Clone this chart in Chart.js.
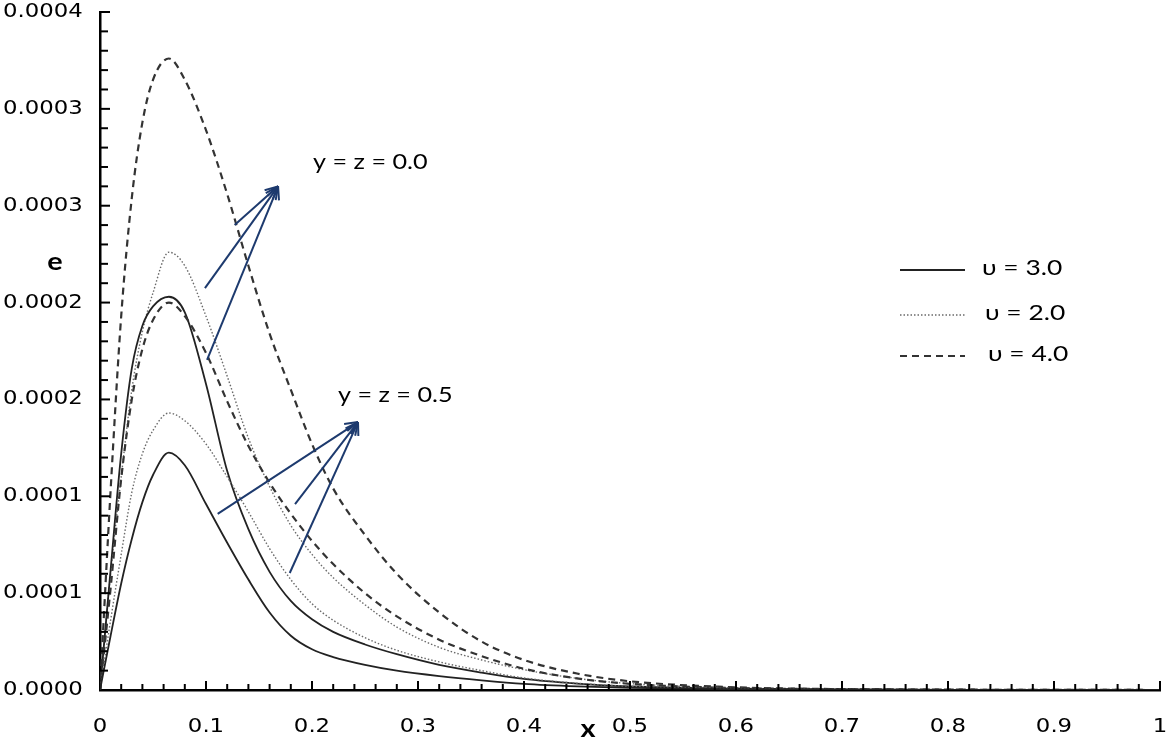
<!DOCTYPE html>
<html>
<head>
<meta charset="utf-8">
<script src="https://cdn.jsdelivr.net/npm/chart.js@4.4.1/dist/chart.umd.min.js"></script>
<style>
  html, body { margin:0; padding:0; background:#fff; }
  #wrap { width:1170px; height:740px; }
</style>
</head>
<body>
<div id="wrap"><canvas id="eChart" width="1170" height="740"></canvas></div>
<script>
const xValues = [0, 0.01, 0.02, 0.03, 0.04, 0.05, 0.065, 0.08, 0.10, 0.12, 0.14, 0.16, 0.18, 0.20, 0.22, 0.25, 0.28, 0.32, 0.36, 0.40, 0.45, 0.50, 0.60, 0.70, 0.80, 0.90, 1.00];

// y = z = 0.0
const e_v3_yz0 = [0, 0.62e-4, 1.22e-4, 1.66e-4, 1.88e-4, 1.98e-4, 2.03e-4, 1.95e-4, 1.58e-4, 1.13e-4, 0.83e-4, 0.61e-4, 0.46e-4, 0.365e-4, 0.30e-4, 0.235e-4, 0.185e-4, 0.13e-4, 0.09e-4, 0.057e-4, 0.033e-4, 0.018e-4, 0.007e-4, 0.0026e-4, 0.0009e-4, 0.0004e-4, 0];
const e_v2_yz0 = [0, 0.60e-4, 1.10e-4, 1.55e-4, 1.85e-4, 2.05e-4, 2.26e-4, 2.19e-4, 1.93e-4, 1.62e-4, 1.30e-4, 1.05e-4, 0.85e-4, 0.70e-4, 0.58e-4, 0.44e-4, 0.325e-4, 0.22e-4, 0.155e-4, 0.105e-4, 0.06e-4, 0.033e-4, 0.01e-4, 0.0035e-4, 0.0009e-4, 0.0004e-4, 0];
const e_v4_yz0 = [0, 1.03e-4, 1.93e-4, 2.54e-4, 2.93e-4, 3.15e-4, 3.26e-4, 3.15e-4, 2.89e-4, 2.56e-4, 2.19e-4, 1.84e-4, 1.55e-4, 1.27e-4, 1.04e-4, 0.80e-4, 0.60e-4, 0.40e-4, 0.25e-4, 0.155e-4, 0.085e-4, 0.045e-4, 0.014e-4, 0.0045e-4, 0.0018e-4, 0.0009e-4, 0];
// y = z = 0.5
const e_v3_yz5 = [0, 0.28e-4, 0.55e-4, 0.78e-4, 0.97e-4, 1.11e-4, 1.225e-4, 1.16e-4, 0.96e-4, 0.76e-4, 0.57e-4, 0.40e-4, 0.28e-4, 0.21e-4, 0.17e-4, 0.13e-4, 0.10e-4, 0.072e-4, 0.05e-4, 0.032e-4, 0.019e-4, 0.011e-4, 0.0045e-4, 0.0018e-4, 0.0009e-4, 0.0003e-4, 0];
const e_v2_yz5 = [0, 0.36e-4, 0.70e-4, 1.02e-4, 1.22e-4, 1.34e-4, 1.43e-4, 1.39e-4, 1.27e-4, 1.10e-4, 0.92e-4, 0.73e-4, 0.57e-4, 0.445e-4, 0.36e-4, 0.27e-4, 0.205e-4, 0.145e-4, 0.10e-4, 0.062e-4, 0.035e-4, 0.019e-4, 0.007e-4, 0.0026e-4, 0.0009e-4, 0.0004e-4, 0];
const e_v4_yz5 = [0, 0.525e-4, 1.09e-4, 1.50e-4, 1.76e-4, 1.91e-4, 2.00e-4, 1.93e-4, 1.74e-4, 1.49e-4, 1.26e-4, 1.07e-4, 0.91e-4, 0.77e-4, 0.65e-4, 0.50e-4, 0.38e-4, 0.26e-4, 0.175e-4, 0.11e-4, 0.06e-4, 0.032e-4, 0.01e-4, 0.0044e-4, 0.0018e-4, 0.0009e-4, 0];

const xTicks = [0, 0.1, 0.2, 0.3, 0.4, 0.5, 0.6, 0.7, 0.8, 0.9, 1];
const xTickLabels = ['0', '0.1', '0.2', '0.3', '0.4', '0.5', '0.6', '0.7', '0.8', '0.9', '1'];
const yTicks = [0, 0.5e-4, 1e-4, 1.5e-4, 2e-4, 2.5e-4, 3e-4, 3.5e-4];
const yTickLabels = ['0.0000', '0.0001', '0.0001', '0.0002', '0.0002', '0.0003', '0.0003', '0.0004'];

const legendLabels = ['\u03c5 = 3.0', '\u03c5 = 2.0', '\u03c5 = 4.0'];
const groupLabels = ['y = z = 0.0', 'y = z = 0.5'];

// where the two notes sit and where their arrows point, in data units
const groupLabelAt = [[0.201, 2.726e-4], [0.2245, 1.523e-4]];
const arrowHeads = [[0.168, 2.60e-4], [0.2434, 1.383e-4]];
const arrowTails = [
  [[0.127, 2.40e-4], [0.099, 2.075e-4], [0.101, 1.704e-4]],
  [[0.111, 0.909e-4], [0.184, 0.96e-4], [0.179, 0.604e-4]]
];

const solidStyle = { borderColor: '#222', borderWidth: 1.8, borderDash: [] };
const dotStyle = { borderColor: '#6a6a6a', borderWidth: 1.4, borderDash: [1.5, 2] };
const dashStyle = { borderColor: '#333', borderWidth: 2.2, borderDash: [7, 5] };

function series(label, vals, style) {
  return Object.assign({
    label: label,
    data: xValues.map((x, i) => ({ x: x, y: vals[i] })),
    pointRadius: 0,
    fill: false,
    cubicInterpolationMode: 'monotone'
  }, style);
}

const STRETCH = 1.2;
function wideText(ctx, txt, x, y, align, font) {
  ctx.save();
  ctx.font = font;
  ctx.fillStyle = '#000';
  ctx.textBaseline = 'middle';
  ctx.textAlign = align;
  ctx.translate(x, y);
  ctx.scale(STRETCH, 1);
  ctx.fillText(txt, 0, 0);
  ctx.restore();
}

function line(ctx, x1, y1, x2, y2) {
  ctx.beginPath();
  ctx.moveTo(x1, y1);
  ctx.lineTo(x2, y2);
  ctx.stroke();
}

const decor = {
  id: 'decor',
  afterDraw(chart) {
    const ctx = chart.ctx;
    const a = chart.chartArea;
    const xs = chart.scales.x, ys = chart.scales.y;

    // tick marks point into the plot
    ctx.save();
    ctx.strokeStyle = '#000';
    ctx.lineWidth = 2;
    for (let i = 1; i <= 35; i++) {
      const py = ys.getPixelForValue(i * 1e-5);
      line(ctx, a.left, py, a.left + (i % 5 === 0 ? 10 : 8), py);
    }
    for (let i = 1; i <= 50; i++) {
      const px = xs.getPixelForValue(i * 0.02);
      line(ctx, px, a.bottom, px, a.bottom - (i % 5 === 0 ? 9 : 6));
    }
    ctx.restore();

    const tickFont = '19px "DejaVu Sans", sans-serif';
    yTicks.forEach((v, i) => wideText(ctx, yTickLabels[i], 3, ys.getPixelForValue(v), 'left', tickFont));
    xTicks.forEach((v, i) => wideText(ctx, xTickLabels[i], xs.getPixelForValue(v), 727, 'center', tickFont));

    wideText(ctx, 'e', 55, 262, 'center', 'bold 24px Lato, "DejaVu Sans", sans-serif');
    wideText(ctx, 'x', 588, 729, 'center', 'bold 24px Lato, "DejaVu Sans", sans-serif');

    // arrows
    ctx.save();
    ctx.strokeStyle = '#1d3a6e';
    ctx.lineWidth = 2;
    arrowHeads.forEach((h, g) => {
      const hx = xs.getPixelForValue(h[0]), hy = ys.getPixelForValue(h[1]);
      arrowTails[g].forEach(t => {
        const tx = xs.getPixelForValue(t[0]), ty = ys.getPixelForValue(t[1]);
        line(ctx, tx, ty, hx, hy);
        const ang = Math.atan2(hy - ty, hx - tx);
        [-0.45, 0.45].forEach(d => {
          line(ctx, hx, hy, hx - 14 * Math.cos(ang + d), hy - 14 * Math.sin(ang + d));
        });
      });
    });
    ctx.restore();

    const noteFont = '21px Lato, "DejaVu Sans", sans-serif';
    groupLabels.forEach((txt, i) => {
      wideText(ctx, txt, xs.getPixelForValue(groupLabelAt[i][0]), ys.getPixelForValue(groupLabelAt[i][1]), 'left', noteFont);
    });

    // legend
    const rows = [270, 315, 356];
    const textX = [982, 985, 988];
    const styles = [solidStyle, dotStyle, dashStyle];
    rows.forEach((ry, i) => {
      const s = styles[i];
      ctx.save();
      ctx.strokeStyle = s.borderColor;
      ctx.lineWidth = s.borderWidth;
      ctx.setLineDash(s.borderDash);
      line(ctx, 900, ry, 965, ry);
      ctx.restore();
      wideText(ctx, legendLabels[i], textX[i], ry - 2, 'left', '22px Lato, "DejaVu Sans", sans-serif');
    });
  }
};

new Chart(document.getElementById('eChart'), {
  type: 'line',
  data: {
    datasets: [
      series('\u03c5 = 3.0, y = z = 0.5', e_v3_yz5, solidStyle),
      series('\u03c5 = 2.0, y = z = 0.5', e_v2_yz5, dotStyle),
      series('\u03c5 = 4.0, y = z = 0.5', e_v4_yz5, dashStyle),
      series('\u03c5 = 3.0, y = z = 0.0', e_v3_yz0, solidStyle),
      series('\u03c5 = 2.0, y = z = 0.0', e_v2_yz0, dotStyle),
      series('\u03c5 = 4.0, y = z = 0.0', e_v4_yz0, dashStyle)
    ]
  },
  options: {
    responsive: false,
    animation: false,
    devicePixelRatio: 1,
    layout: { padding: { left: 0, top: 12, right: 10, bottom: 0 } },
    plugins: { legend: { display: false }, tooltip: { enabled: false } },
    scales: {
      x: {
        type: 'linear', min: 0, max: 1,
        grid: { display: false },
        border: { display: true, color: '#000', width: 2.5 },
        ticks: { display: false },
        afterFit: s => { s.height = 50; }
      },
      y: {
        min: 0, max: 3.5e-4,
        grid: { display: false },
        border: { display: true, color: '#000', width: 2.5 },
        ticks: { display: false },
        afterFit: s => { s.width = 100; }
      }
    }
  },
  plugins: [decor]
});
</script>
</body>
</html>
